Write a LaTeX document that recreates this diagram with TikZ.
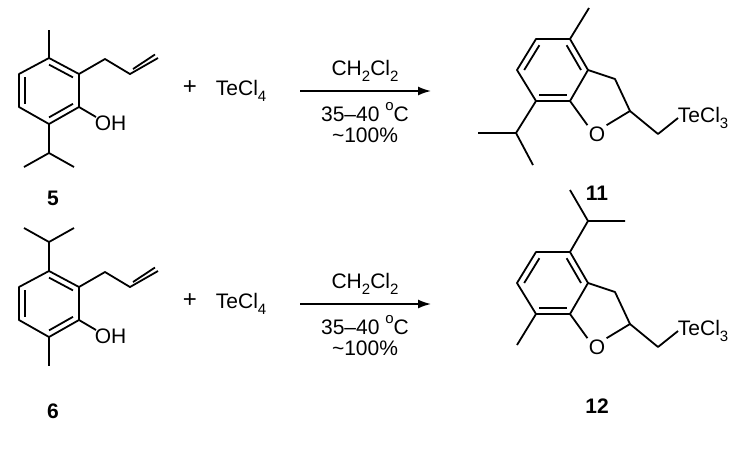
\documentclass[tikz,border=0pt]{standalone}
\usepackage{fontspec}
\setmainfont{Liberation Sans}
\usetikzlibrary{calc,arrows.meta}
\newcommand\chsub[1]{\raisebox{-0.3em}{\fontsize{15}{16}\selectfont #1}}
\newcommand\chsup[1]{\raisebox{0.55em}{\fontsize{15}{16}\selectfont #1}}
\begin{document}
\begin{tikzpicture}[x=1pt,y=-1pt,line width=1.8pt,line join=round,
  txt/.style={inner sep=1pt,font=\fontsize{21}{24}\selectfont},
  lab/.style={inner sep=0pt,font=\fontsize{21}{24}\selectfont\bfseries},
  rarrow/.style={line width=1.6pt,-{Latex[length=13pt,width=9pt]}}]
\useasboundingbox (0,0) rectangle (754,464);
\foreach \dy/\top in {0/1,213/2}{
\begin{scope}[yshift=-\dy pt]
 % reactant ring
 \coordinate (a0) at (49,58); \coordinate (a1) at (79,74); \coordinate (a2) at (79,107);
 \coordinate (a3) at (49,124); \coordinate (a4) at (19,107); \coordinate (a5) at (19,74);
 \coordinate (ac) at (49,91);
 \draw (a0)--(a1)--(a2)--(a3)--(a4)--(a5)--cycle;
 \draw ($(a0)!0.2!(ac)$)--($(a1)!0.2!(ac)$);
 \draw ($(a2)!0.2!(ac)$)--($(a3)!0.2!(ac)$);
 \draw ($(a4)!0.2!(ac)$)--($(a5)!0.2!(ac)$);
 \coordinate (al1) at (105,59); \coordinate (al2) at (130,74); \coordinate (al3) at (158,58);
 \draw (a1)--(al1)--(al2)--(al3);
 \draw (133,69)--(155,54.5);
 \coordinate (ohb) at (96,117);
 \draw (a2)--(ohb);
 \node[txt,anchor=west] (oh) at (93,123) {OH};
 % product ring
 \coordinate (b0) at (536,39); \coordinate (b1) at (570,39); \coordinate (b2) at (588,70);
 \coordinate (b3) at (570,101); \coordinate (b4) at (536,101); \coordinate (b5) at (517,70);
 \coordinate (bc) at (553,70);
 \draw (b0)--(b1)--(b2)--(b3)--(b4)--(b5)--cycle;
 \draw ($(b5)!0.2!(bc)$)--($(b0)!0.2!(bc)$);
 \draw ($(b1)!0.2!(bc)$)--($(b2)!0.2!(bc)$);
 \draw ($(b3)!0.2!(bc)$)--($(b4)!0.2!(bc)$);
 \node[txt,inner sep=0.5pt] (O) at (597,134) {O};
 \coordinate (ch2) at (615,79); \coordinate (ch) at (630,111);
 \coordinate (cte) at (658,134); \coordinate (te) at (678,118);
 \draw (b2)--(ch2)--(ch)--(O.north east);
 \draw (b3)--(O.north west);
 \draw (ch)--(cte)--(te);
 \node[txt,anchor=west,inner sep=0pt] (tecl) at (677,118) {TeCl\chsub{3}};
 % reagents
 \node[txt,font=\fontsize{24}{26}\selectfont] (plus) at (190,88) {+};
 \node[txt,anchor=west] (tecl4) at (214,91) {TeCl\chsub{4}};
 \coordinate (ar1) at (300,91); \coordinate (ar2) at (431,91);
 \draw[rarrow] (ar1)--(ar2);
 \node[txt] (sol) at (365,71) {CH\chsub{2}Cl\chsub{2}};
 \node[txt] (temp) at (365,112) {35–40 \chsup{o}C};
 \node[txt] (yld) at (365,135) {{\char"7E}100\%};
\end{scope}}
% compound 5 / 11 substituents
\draw (49,58)--(49,30);
\draw (49,124)--(49,153)--(24,167); \draw (49,153)--(74,167);
\draw (570,39)--(589,8);
\draw (536,101)--(516,133)--(478,133); \draw (516,133)--(533,165);
\node[lab] (l5) at (53,198) {5};
\node[lab] (l11) at (597,193) {11};
% compound 6 / 12 substituents
\draw (49,271)--(49,242)--(24,228); \draw (49,242)--(74,228);
\draw (49,337)--(49,366);
\draw (570,252)--(588,221)--(625,221); \draw (588,221)--(570,190);
\draw (536,314)--(517,345);
\node[lab] (l6) at (53,411) {6};
\node[lab] (l12) at (597,406) {12};
\end{tikzpicture}
\end{document}
